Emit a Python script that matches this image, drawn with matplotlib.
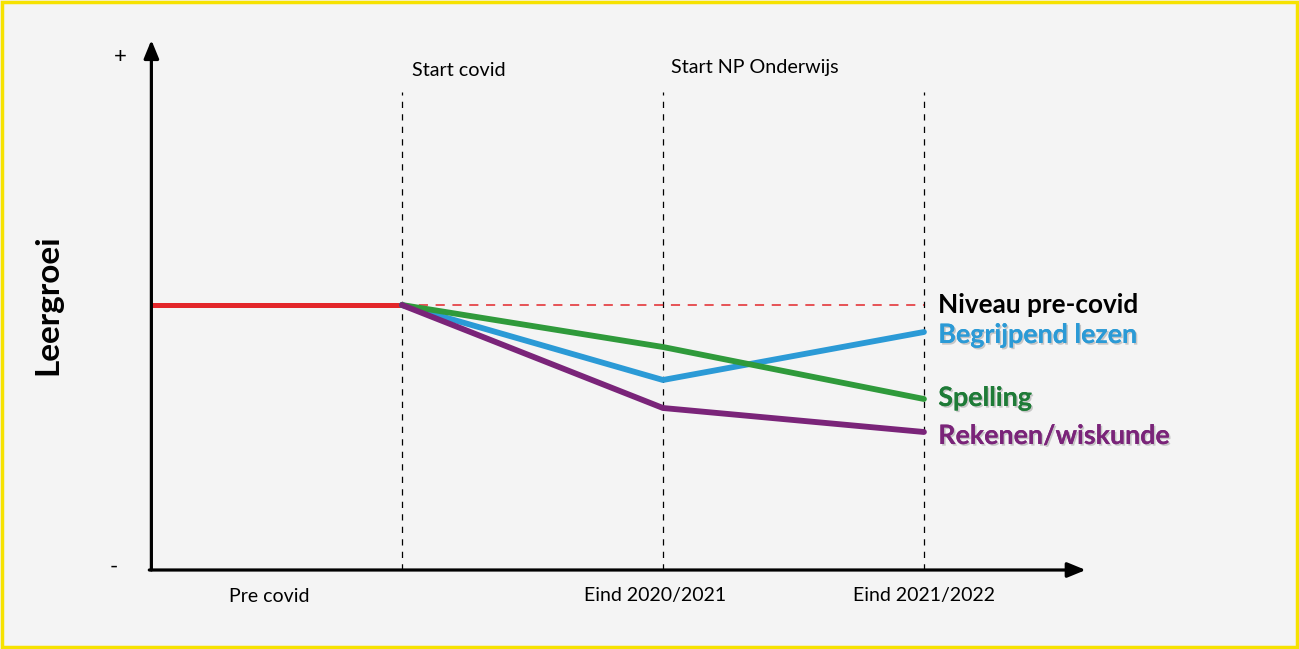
#!/usr/bin/env python3
"""Schematic learning-growth chart: pre-covid level vs three subjects."""

import matplotlib.pyplot as plt
import matplotlib.patheffects as pe
from matplotlib.patches import Rectangle

plt.rcParams["font.family"] = ["Lato", "DejaVu Sans"]

# moments on the time axis (dashed verticals)
moments = [1, 2, 3]
moment_labels = ["Pre covid", "Eind 2020/2021", "Eind 2021/2022"]
moment_label_x = [0.49, 1.97, 3.0]
top_labels = ["Start covid", "Start NP Onderwijs"]

# learning growth relative to pre-covid level (0)
pre_covid_level = 0.0
begrijpend = [0.0, -0.75, -0.27]
spelling = [0.0, -0.42, -0.94]
rekenen = [0.0, -1.03, -1.27]

SERIES = [
    ("Begrijpend lezen", begrijpend, "#2b9ad6", "#2b9ad6"),
    ("Spelling", spelling, "#2f9a3b", "#1e7b37"),
    ("Rekenen/wiskunde", rekenen, "#7a2479", "#7a2479"),
]
RED = "#e3262a"
ORIGIN_X = 0.04
Y_LOW, Y_HIGH = -2.65, 2.65


def main():
    fig = plt.figure(figsize=(12.99, 6.49), dpi=100, facecolor="#f4f4f4")
    ax = fig.add_axes([0, 0, 1, 1])
    ax.set_facecolor("#f4f4f4")
    ax.set_xlim(-0.540, 4.437)
    ax.set_ylim(-3.44, 3.05)
    ax.axis("off")

    # yellow frame
    fig.patches.append(Rectangle((0.0015, 0.003), 0.997, 0.994, transform=fig.transFigure,
                                 fill=False, edgecolor="#f6e200", linewidth=2.5))

    # axes with arrow heads
    arrow = dict(arrowstyle="-|>,head_length=1.1,head_width=0.45", color="black",
                 linewidth=2.3, shrinkA=0, shrinkB=0)
    ax.annotate("", xy=(ORIGIN_X, Y_HIGH), xytext=(ORIGIN_X, Y_LOW), arrowprops=arrow)
    ax.annotate("", xy=(3.62, Y_LOW), xytext=(ORIGIN_X - 0.008, Y_LOW), arrowprops=arrow)

    # dashed verticals
    for x in moments:
        ax.plot([x, x], [Y_LOW, 2.13], color="black", linewidth=0.9, dashes=(5, 5))

    # pre-covid level
    ax.plot([ORIGIN_X, moments[0]], [pre_covid_level] * 2, color=RED, linewidth=3.6,
            solid_capstyle="butt")
    ax.plot([moments[0], moments[-1]], [pre_covid_level] * 2, color=RED, linewidth=1.1,
            dashes=(6, 5))

    order = [1, 0, 2]
    for i in order:
        name, vals, color, _ = SERIES[i]
        ax.plot(moments, vals, color=color, linewidth=4.2, solid_capstyle="round",
                solid_joinstyle="round", zorder=3 + i)

    # labels at line ends
    shadow = [pe.withSimplePatchShadow(offset=(1.2, -1.2), shadow_rgbFace="#9a9a9a", alpha=0.5),
              pe.Normal()]
    ax.text(3.055, pre_covid_level, "Niveau pre-covid", fontsize=18.8, fontweight="bold",
            color="black", va="center", ha="left")
    label_y = [begrijpend[-1] - 0.03, spelling[-1] + 0.01, rekenen[-1] - 0.04]
    for (name, vals, _, tcolor), y in zip(SERIES, label_y):
        ax.text(3.055, y, name, fontsize=19.3, fontweight="bold", color=tcolor,
                va="center", ha="left", path_effects=shadow)

    # top annotations
    ax.text(moments[0] + 0.04, 2.35, top_labels[0], fontsize=14.2, va="center", ha="left")
    ax.text(moments[1] + 0.03, 2.38, top_labels[1], fontsize=14.2, va="center", ha="left")

    # x labels
    for x, lab in zip(moment_label_x, moment_labels):
        ax.text(x, -2.91, lab, fontsize=14, va="center", ha="center")

    # y annotations
    ax.text(-0.08, 2.48, "+", fontsize=16, va="center", ha="center")
    ax.text(-0.105, -2.62, "-", fontsize=16, va="center", ha="center")
    ax.text(-0.355, pre_covid_level, "Leergroei", fontsize=24, fontweight="bold",
            rotation=90, va="center", ha="center")

    fig.savefig("out.png", dpi=100, facecolor=fig.get_facecolor())
    plt.close(fig)


if __name__ == "__main__":
    main()
